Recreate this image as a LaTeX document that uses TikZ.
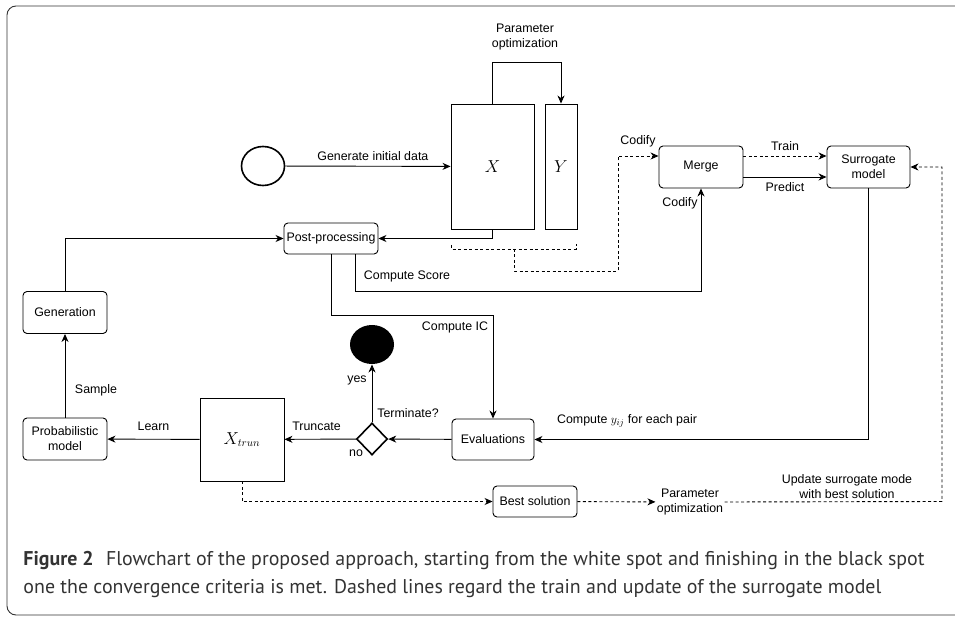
\documentclass[tikz,border=0pt]{standalone}
\usepackage{fontspec}
\setmainfont{Liberation Sans}
\newfontfamily\capfont{PT Sans}
\usetikzlibrary{arrows.meta,shapes.geometric}

\begin{document}
\begin{tikzpicture}[x=1pt,y=-1pt,line width=0.9pt,
    font=\fontsize{12.4}{15}\selectfont,
    >={Stealth[length=8pt,width=7pt,inset=2.5pt]},
    box/.style={draw,rounded corners=4pt,minimum width=84pt,minimum height=42pt,align=center,inner sep=1pt},
    mat/.style={draw,minimum width=83pt,minimum height=125pt,font=\fontsize{16}{18}\selectfont},
    dsh/.style={dash pattern=on 3pt off 2.5pt},
    lbl/.style={align=center,inner sep=1pt}]

  \useasboundingbox (0,0) rectangle (955,617);
  \draw[rounded corners=9pt,draw=black!80] (980,6) -- (7,6) -- (7,615) -- (980,615);

  \node[ellipse,draw,line width=1.6pt,minimum width=43pt,minimum height=39pt] (start) at (263,166) {};
  \node[mat] (x) at (492.5,166.5) {$X$};
  \node[mat,minimum width=32pt] (y) at (561,166.5) {$Y$};
  \node[box] (merge) at (701,167) {Merge};
  \node[box,minimum width=83pt] (sur) at (868.5,167) {Surrogate\\model};
  \node[box,minimum width=94pt,minimum height=31pt] (post) at (331,238.5) {Post-processing};
  \node[box] (gen) at (65,312.5) {Generation};
  \node[box] (prob) at (65,439) {Probabilistic\\model};
  \node[mat,minimum width=84pt,minimum height=83pt] (xt) at (242,439.5) {$X_{trun}$};
  \node[diamond,draw,line width=1.6pt,minimum width=31pt,minimum height=32pt,inner sep=0pt] (term) at (372,439) {};
  \node[ellipse,fill=black,minimum width=44pt,minimum height=39pt] (end) at (372,344.5) {};
  \node[box,minimum width=82pt,minimum height=41pt] (eval) at (493,439.5) {Evaluations};
  \node[box,minimum height=31pt] (best) at (535,501.5) {Best solution};
  \node[lbl] (po) at (690,502) {Parameter\\optimization};
  \coordinate (corner) at (942,501.5);
  \coordinate (br) at (514,249);

  % main flow
  \draw[->] (start) -- (x) node[lbl,pos=0.53,above=4pt] {Generate initial data};
  \draw[->] (x.north) -- ++(0,-41) -| (y.north);
  \node[lbl] at (525,37) {Parameter\\optimization};
  \draw[->] (x.south) |- (post.east);
  \draw[->] (gen.north) |- (post.west);
  \draw[->] ([xshift=24pt]post.south) -- ++(0,37) -| (merge.south);
  \node[lbl] at (407,276) {Compute Score};
  \node[lbl] at (680,203) {Codify};
  \draw[->] (post.south) -- ++(0,61) -| (eval.north);
  \node[lbl] at (455,327) {Compute IC};
  \draw[->] ([yshift=-10pt]merge.east) -- ([yshift=-10pt]sur.west) node[lbl,midway,below=4pt] {Predict};
  \draw[->] (sur.south) |- (eval.east);
  \node[lbl] at (627,421) {Compute $y_{ij}$ for each pair};
  \draw[->] (eval) -- (term);
  \draw[->] (term) -- (end);
  \node[lbl] at (357,380) {yes};
  \node[lbl] at (408,413) {Terminate?};
  \node[lbl] at (356,453) {no};
  \draw[->] (term) -- (xt) node[lbl,pos=0.55,above=7pt] {Truncate};
  \draw[->] (xt) -- (prob) node[lbl,midway,above=7pt] {Learn};
  \draw[->] (prob) -- (gen);
  \node[lbl] at (96,390) {Sample};

  % surrogate training and update
  \draw[dsh] (451,245) -- (451,249) -- (576,249) -- (576,244);
  \draw[dsh,->] (br) -- (514,271) -- (618,271) |- ([yshift=11pt]merge.west);
  \node[lbl] at (638,141) {Codify};
  \draw[dsh,->] ([yshift=11pt]merge.east) -- ([yshift=11pt]sur.west) node[lbl,midway,above=4pt] {Train};
  \draw[dsh,->] (xt.south) |- (best.west);
  \draw[dsh,->] (best) -- (po);
  \draw[dsh,->] (po.east) -- (corner) |- (sur.east);
  \node[lbl] at (847,487) {Update surrogate mode\\with best solution};

  \node[anchor=base west,align=left,inner sep=0pt,text=black!80,
    font=\capfont\fontsize{19.9}{28}\selectfont] (cap) at (23,593)
    {\textbf{Figure 2}\hspace{7pt} Flowchart of the proposed approach, starting from the white spot and finishing in the black spot\\
     one the convergence criteria is met. Dashed lines regard the train and update of the surrogate model};
\end{tikzpicture}
\end{document}
